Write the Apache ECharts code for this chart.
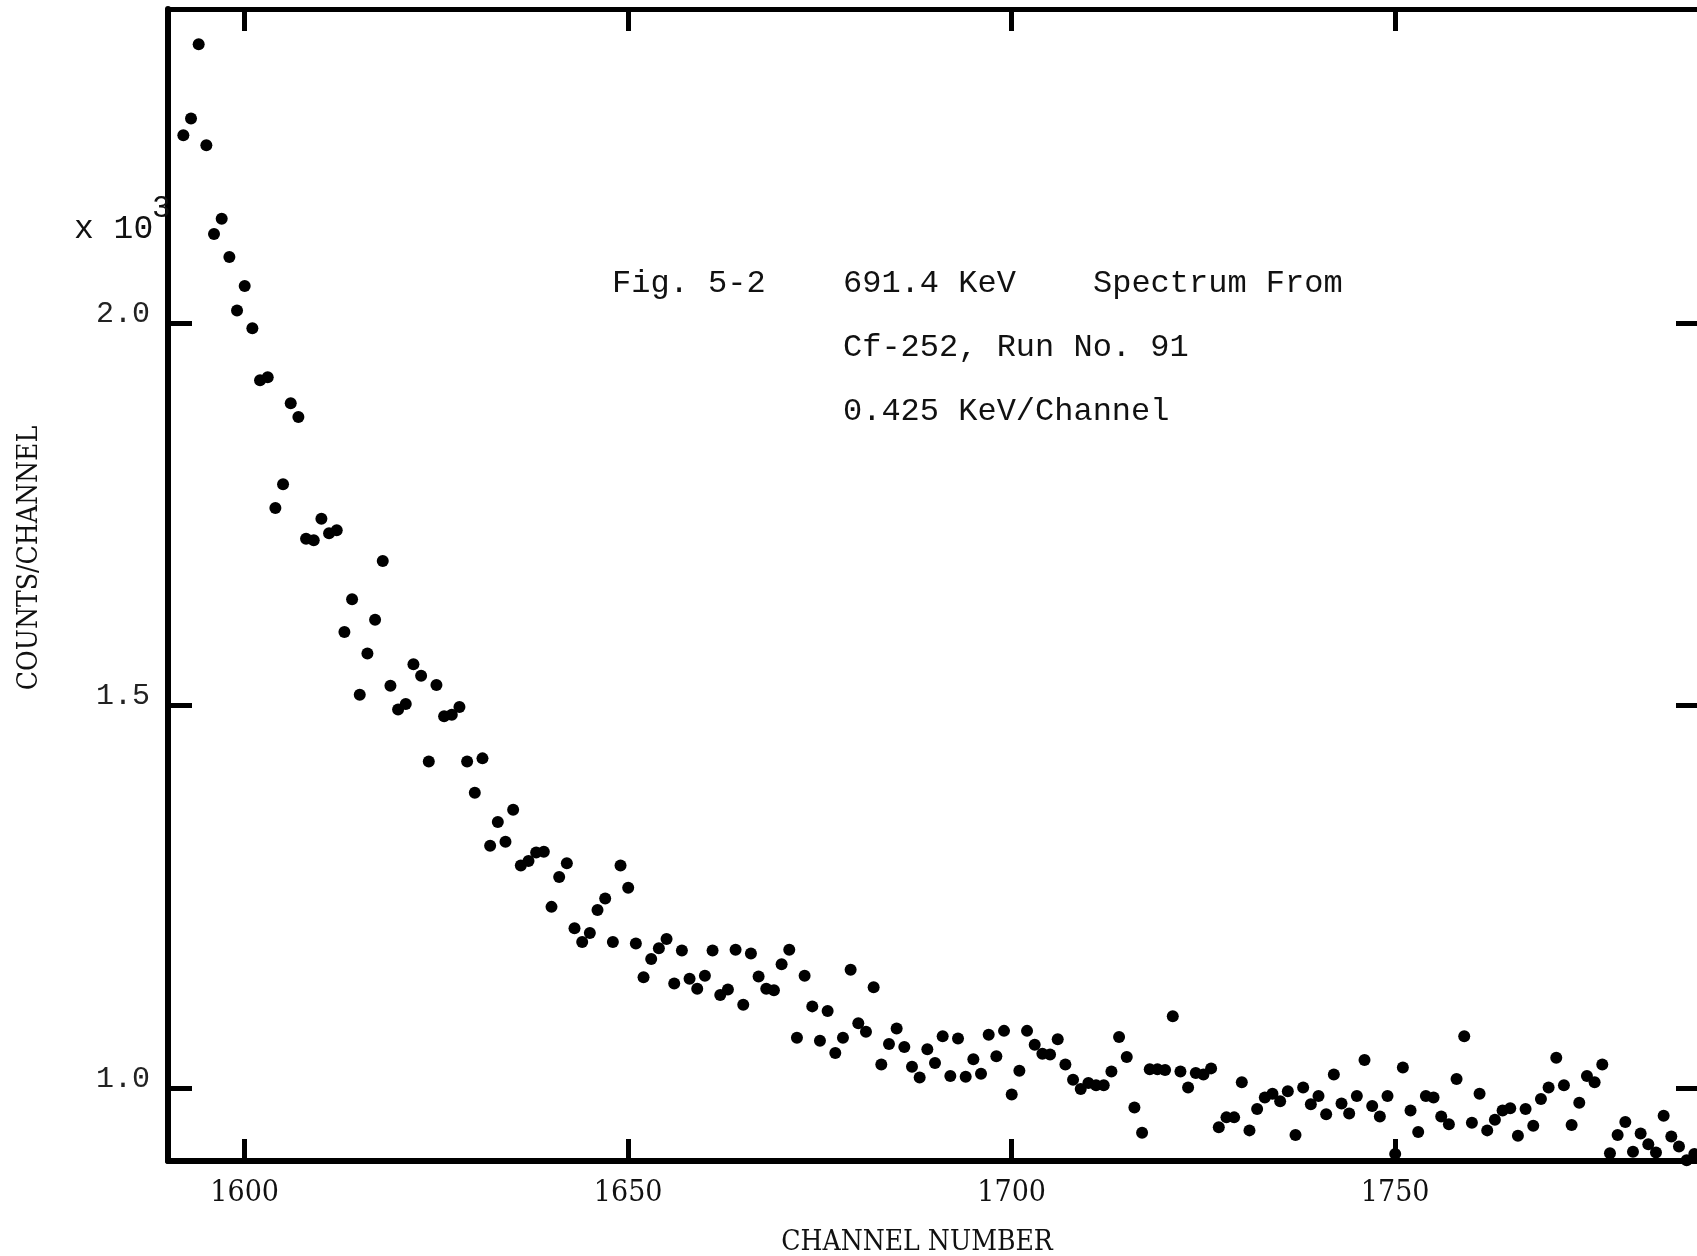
<!DOCTYPE html>
<html>
<head>
<meta charset="utf-8">
<title>Fig. 5-2 691.4 KeV Spectrum</title>
<script src="https://cdn.jsdelivr.net/npm/echarts@6.0.0/dist/echarts.min.js"></script>
<style>
  html, body { margin: 0; padding: 0; background: #fff; }
  #spectrum { width: 1697px; height: 1256px; }
</style>
</head>
<body>
<div id="spectrum"></div>
<script>
// first channel plotted, then one count per channel (units of 10^3)
const firstChannel = 1592;
const counts = [
  2.245, 2.267, 2.364, 2.232, 2.116, 2.136, 2.086, 2.016, 2.048, 1.993,
  1.925, 1.929, 1.758, 1.789, 1.895, 1.877, 1.718, 1.716, 1.744, 1.725,
  1.729, 1.596, 1.639, 1.514, 1.568, 1.612, 1.689, 1.526, 1.495, 1.502,
  1.554, 1.539, 1.427, 1.527, 1.486, 1.488, 1.498, 1.427, 1.386, 1.431,
  1.317, 1.348, 1.322, 1.364, 1.291, 1.297, 1.308, 1.309, 1.237, 1.276,
  1.294, 1.209, 1.191, 1.203, 1.233, 1.248, 1.191, 1.291, 1.262, 1.189,
  1.145, 1.169, 1.183, 1.195, 1.137, 1.180, 1.143, 1.130, 1.147, 1.180,
  1.122, 1.129, 1.181, 1.109, 1.176, 1.146, 1.130, 1.128, 1.162, 1.181,
  1.066, 1.147, 1.107, 1.062, 1.101, 1.046, 1.066, 1.155, 1.085, 1.074,
  1.132, 1.031, 1.058, 1.078, 1.054, 1.028, 1.014, 1.051, 1.033, 1.068,
  1.016, 1.065, 1.015, 1.038, 1.019, 1.070, 1.042, 1.075, 0.992, 1.023,
  1.075, 1.057, 1.045, 1.044, 1.064, 1.031, 1.011, 0.999, 1.007, 1.004,
  1.004, 1.022, 1.067, 1.041, 0.975, 0.942, 1.025, 1.025, 1.024, 1.094,
  1.022, 1.001, 1.020, 1.018, 1.026, 0.949, 0.962, 0.962, 1.008, 0.945,
  0.973, 0.988, 0.993, 0.983, 0.996, 0.939, 1.001, 0.979, 0.990, 0.966,
  1.018, 0.980, 0.967, 0.990, 1.037, 0.977, 0.963, 0.990, 0.914, 1.027,
  0.971, 0.943, 0.990, 0.988, 0.963, 0.953, 1.012, 1.068, 0.955, 0.993,
  0.945, 0.959, 0.971, 0.974, 0.938, 0.973, 0.951, 0.986, 1.001, 1.040,
  1.004, 0.952, 0.981, 1.016, 1.008, 1.031, 0.915, 0.939, 0.956, 0.917,
  0.941, 0.927, 0.916, 0.964, 0.937, 0.924, 0.906, 0.914
];
const channelTicks = [1600, 1650, 1700, 1750];
const countTicks = [1.0, 1.5, 2.0];

const typeFont = '"Liberation Mono", "DejaVu Sans Mono", monospace';
const letterFont = '"DejaVu Serif Condensed", "Liberation Serif", serif';

let points = counts.map(function (c, i) {
  return [firstChannel + i, c];
});

let myChart = echarts.init(document.getElementById('spectrum'));

let frameLine = { show: true, lineStyle: { color: '#000', width: 6 } };

let option = {
  backgroundColor: '#fff',
  animation: false,
  grid: {
    left: 168,
    right: -5,
    top: 9,
    bottom: 95,
    outerBoundsMode: 'none'
  },
  xAxis: [{
    type: 'value',
    position: 'bottom',
    min: 1590,
    max: 1790,
    axisLine: frameLine,
    axisTick: {
      show: true,
      inside: true,
      length: 22,
      customValues: channelTicks,
      lineStyle: { color: '#000', width: 5 }
    },
    axisLabel: {
      customValues: channelTicks,
      margin: 17,
      color: '#111',
      fontFamily: letterFont,
      fontSize: 30,
      formatter: function (v) { return String(v); }
    },
    splitLine: { show: false }
  }, {
    type: 'value',
    position: 'top',
    min: 1590,
    max: 1790,
    axisLine: { show: true, lineStyle: { color: '#000', width: 5 } },
    axisTick: {
      show: true,
      inside: true,
      length: 22,
      customValues: channelTicks,
      lineStyle: { color: '#000', width: 5 }
    },
    axisLabel: { show: false },
    splitLine: { show: false }
  }],
  yAxis: [{
    type: 'value',
    position: 'left',
    min: 0.905,
    max: 2.41,
    axisLine: frameLine,
    axisTick: {
      show: true,
      inside: true,
      length: 24,
      customValues: countTicks,
      lineStyle: { color: '#000', width: 5 }
    },
    axisLabel: {
      customValues: countTicks,
      margin: 18,
      verticalAlign: 'bottom',
      lineHeight: 18,
      color: '#222',
      fontFamily: typeFont,
      fontSize: 30,
      formatter: function (v) { return v.toFixed(1); }
    },
    splitLine: { show: false }
  }, {
    type: 'value',
    position: 'right',
    min: 0.905,
    max: 2.41,
    axisLine: frameLine,
    axisTick: {
      show: true,
      inside: true,
      length: 26,
      customValues: countTicks,
      lineStyle: { color: '#000', width: 5 }
    },
    axisLabel: { show: false },
    splitLine: { show: false }
  }],
  graphic: [
    { type: 'text', z: 100, left: 74, top: 213, style: { text: 'x 10', font: '33px ' + typeFont, fill: '#111' } },
    { type: 'text', z: 100, left: 152, top: 193, style: { text: '3', font: '31px ' + typeFont, fill: '#111' } },
    { type: 'text', x: 612, y: 284, style: { text: 'Fig. 5-2', font: '32px ' + typeFont, fill: '#111', textVerticalAlign: 'middle' } },
    { type: 'text', x: 843, y: 284, style: { text: '691.4 KeV', font: '32px ' + typeFont, fill: '#111', textVerticalAlign: 'middle' } },
    { type: 'text', x: 1093, y: 284, style: { text: 'Spectrum From', font: '32px ' + typeFont, fill: '#111', textVerticalAlign: 'middle' } },
    { type: 'text', x: 843, y: 348, style: { text: 'Cf-252, Run No. 91', font: '32px ' + typeFont, fill: '#111', textVerticalAlign: 'middle' } },
    { type: 'text', x: 843, y: 412, style: { text: '0.425 KeV/Channel', font: '32px ' + typeFont, fill: '#111', textVerticalAlign: 'middle' } },
    // axis titles, lettered by hand in the original
    { type: 'text', x: 917, y: 1243, style: { text: 'CHANNEL NUMBER', font: '28px ' + letterFont, fill: '#111', textAlign: 'center', textVerticalAlign: 'middle' } },
    { type: 'text', x: 30, y: 558, rotation: Math.PI / 2, style: { text: 'COUNTS/CHANNEL', font: '28px ' + letterFont, fill: '#111', textAlign: 'center', textVerticalAlign: 'middle' } }
  ],
  series: [{
    name: 'counts',
    type: 'scatter',
    xAxisIndex: 0,
    yAxisIndex: 0,
    symbol: 'circle',
    symbolSize: 12,
    itemStyle: { color: '#000', opacity: 1 },
    data: points,
    clip: false
  }]
};

myChart.setOption(option);
</script>
</body>
</html>
